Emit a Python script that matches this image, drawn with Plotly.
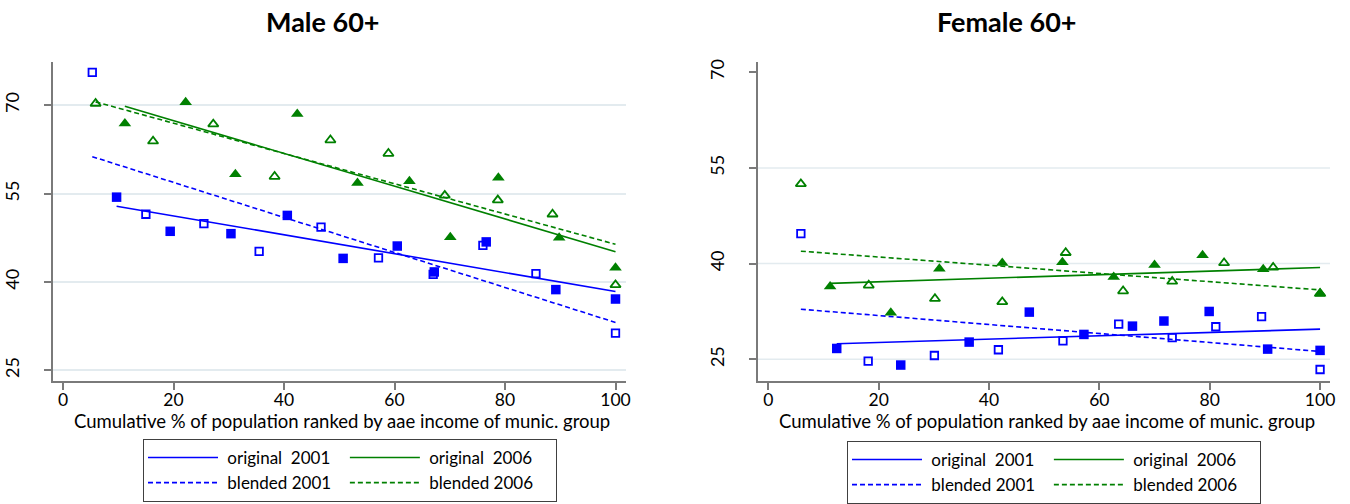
import numpy as np
import plotly.graph_objects as go

# ---------------- data ----------------
# Male 60+
m_orig01_x = [9.7, 19.4, 30.4, 40.6, 50.7, 60.5, 67.2, 76.6, 89.2, 100]
m_orig01_y = [54.4, 48.6, 48.2, 51.3, 44.0, 46.1, 41.7, 46.8, 38.7, 37.1]
m_blend01_x = [5.3, 15.0, 25.5, 35.5, 46.7, 57.1, 67.0, 76.0, 85.6, 100]
m_blend01_y = [75.6, 51.5, 49.9, 45.2, 49.3, 44.1, 41.3, 46.2, 41.4, 31.3]
m_orig06_x = [11.2, 22.2, 31.2, 42.4, 53.3, 62.7, 70.1, 78.8, 89.8, 100]
m_orig06_y = [66.9, 70.5, 58.3, 68.5, 56.8, 57.1, 47.6, 57.7, 47.5, 42.4]
m_blend06_x = [5.9, 16.3, 27.2, 38.3, 48.4, 58.9, 69.1, 78.7, 88.6, 100]
m_blend06_y = [70.3, 63.9, 66.8, 57.9, 64.1, 61.8, 54.7, 53.9, 51.5, 39.5]

# Female 60+
f_orig01_x = [12.4, 24.0, 36.4, 47.3, 57.2, 66.0, 71.7, 79.9, 90.5, 100]
f_orig01_y = [26.7, 24.1, 27.7, 32.4, 28.9, 30.2, 31.0, 32.5, 26.6, 26.4]
f_blend01_x = [5.9, 18.1, 30.1, 41.7, 53.4, 63.5, 73.2, 81.1, 89.4, 100]
f_blend01_y = [44.7, 24.7, 25.6, 26.5, 27.9, 30.5, 28.4, 30.1, 31.7, 23.4]
f_orig06_x = [11.2, 22.2, 31.0, 42.4, 53.3, 62.6, 70.0, 78.7, 89.7, 100]
f_orig06_y = [36.4, 32.3, 39.2, 40.1, 40.2, 37.9, 39.8, 41.3, 39.1, 35.3]
f_blend06_x = [5.9, 18.2, 30.2, 42.4, 53.9, 64.3, 73.2, 82.6, 91.5, 100]
f_blend06_y = [52.5, 36.6, 34.5, 34.0, 41.7, 35.7, 37.2, 40.1, 39.4, 35.3]

panel_titles = ["Male 60+", "Female 60+"]
x_title = "Cumulative % of population ranked by aae income of munic. group"
x_ticks = [0, 20, 40, 60, 80, 100]
y_ticks = [25, 40, 55, 70]
NB = "\u00a0"
legend_names = [NB + "original" + NB + " 2001" + NB * 2,
                NB + "blended 2001" + NB * 2,
                NB + "original" + NB + " 2006" + NB * 4,
                NB + "blended 2006" + NB * 4]

# ---------------- styling ----------------
BLUE = "#0000ff"
GREEN = "#008000"
FONT = "Lato, Carlito, Calibri, sans-serif"
AXIS_COL = "#7a7a7a"
GRID_COL = "#e3ebef"
DASH = "5px,3px"

fig = go.Figure()

panels = [
    dict(xa="x", ya="y", leg="legend", g="L",
         series=[(m_orig01_x, m_orig01_y, BLUE, "square", False, 0),
                 (m_blend01_x, m_blend01_y, BLUE, "square-open", True, 1),
                 (m_orig06_x, m_orig06_y, GREEN, "triangle-up", False, 2),
                 (m_blend06_x, m_blend06_y, GREEN, "triangle-up-open", True, 3)]),
    dict(xa="x2", ya="y2", leg="legend2", g="R",
         series=[(f_orig01_x, f_orig01_y, BLUE, "square", False, 0),
                 (f_blend01_x, f_blend01_y, BLUE, "square-open", True, 1),
                 (f_orig06_x, f_orig06_y, GREEN, "triangle-up", False, 2),
                 (f_blend06_x, f_blend06_y, GREEN, "triangle-up-open", True, 3)]),
]

for p in panels:
    # fitted (OLS) lines first, grouped for the legend: 2001 column, 2006 column
    for xs, ys, col, sym, blended, idx in p["series"]:
        xs_a = np.array(xs, dtype=float)
        ys_a = np.array(ys, dtype=float)
        b, a = np.polyfit(xs_a, ys_a, 1)
        lx = np.array([xs_a.min(), xs_a.max()])
        ly = a + b * lx
        grp = p["g"] + ("2001" if idx < 2 else "2006")
        fig.add_trace(go.Scatter(
            x=lx, y=ly, mode="lines", xaxis=p["xa"], yaxis=p["ya"],
            name=legend_names[idx], legend=p["leg"], legendgroup=grp,
            line=dict(color=col, width=1.6, dash=DASH if blended else "solid"),
            hoverinfo="skip"))
    for xs, ys, col, sym, blended, idx in p["series"]:
        is_tri = "triangle" in sym
        if blended:
            size = 9 if is_tri else 7.5
            mline = dict(color=col, width=1.8)
        else:
            size = 11 if is_tri else 9.5
            mline = dict(width=0)
        fig.add_trace(go.Scatter(
            x=xs, y=ys, mode="markers", xaxis=p["xa"], yaxis=p["ya"],
            showlegend=False,
            marker=dict(symbol=sym, size=size, color=col, line=mline)))

W, H = 1350, 504

def xax(domain, rng, anchor):
    return dict(domain=domain, range=rng, anchor=anchor, showgrid=False, zeroline=False,
                showline=True, linecolor=AXIS_COL, linewidth=2, automargin=False,
                ticks="outside", ticklen=7, tickwidth=1.5, tickcolor=AXIS_COL,
                tickvals=x_ticks, ticklabelstandoff=-5,
                tickfont=dict(family=FONT, size=17.5, color="#000"))

def yax(domain, rng, anchor, grid):
    return dict(domain=domain, range=rng, anchor=anchor, showgrid=grid,
                gridcolor=GRID_COL, gridwidth=1.5, zeroline=False, automargin=False,
                showline=True, linecolor=AXIS_COL, linewidth=2,
                ticks="outside", ticklen=7, tickwidth=1.5, tickcolor=AXIS_COL,
                tickvals=y_ticks, tickangle=-90, ticklabelstandoff=18,
                tickfont=dict(family=FONT, size=18, color="#000"))

ydom = [1 - 381 / H, 1 - 62 / H]
xdom1 = [53 / W, 626 / W]
xdom2 = [758 / W, 1330 / W]
fig.update_layout(
    width=W, height=H,
    margin=dict(l=0, r=0, t=0, b=0, autoexpand=False),
    paper_bgcolor="white", plot_bgcolor="white",
    xaxis=xax(xdom1, [-1.81, 101.9], "y"),
    yaxis=yax(ydom, [23.18, 77.35], "x", True),
    xaxis2=xax(xdom2, [-1.87, 101.8], "y2"),
    yaxis2=yax(ydom, [21.6, 71.6], "x2", False),
    showlegend=True,
)

# gridlines for the female panel (no line at the top tick)
for v in [25, 40, 55]:
    fig.add_shape(type="line", xref="x2 domain", yref="y2", x0=0, x1=1, y0=v, y1=v,
                  line=dict(color=GRID_COL, width=1.5), layer="below")

leg_common = dict(orientation="h", traceorder="grouped", itemwidth=70,
                  bordercolor="#404040", borderwidth=1, bgcolor="white",
                  font=dict(family=FONT, size=17, color="#000"),
                  xanchor="left", yanchor="top", tracegroupgap=0)
fig.update_layout(
    legend=dict(x=143 / W, y=1 - 439 / H, **leg_common),
    legend2=dict(x=847 / W, y=1 - 441 / H, **leg_common),
)

# panel titles
for txt, cx in zip(panel_titles, [323, 1007]):
    fig.add_annotation(text=f"<b>{txt}</b>", xref="paper", yref="paper",
                       x=cx / W, y=1 - 22 / H, xanchor="center", yanchor="middle",
                       showarrow=False, font=dict(family=FONT, size=27, color="#000"))

# x-axis titles
for cx in [342, 1047]:
    fig.add_annotation(text=x_title, xref="paper", yref="paper",
                       x=cx / W, y=1 - 421 / H, xanchor="center", yanchor="middle",
                       showarrow=False, font=dict(family=FONT, size=18.5, color="#000"))

fig.write_html("out.html", config={"displayModeBar": False},
               post_script="document.body.style.margin='0px';document.body.style.overflow='hidden';")
